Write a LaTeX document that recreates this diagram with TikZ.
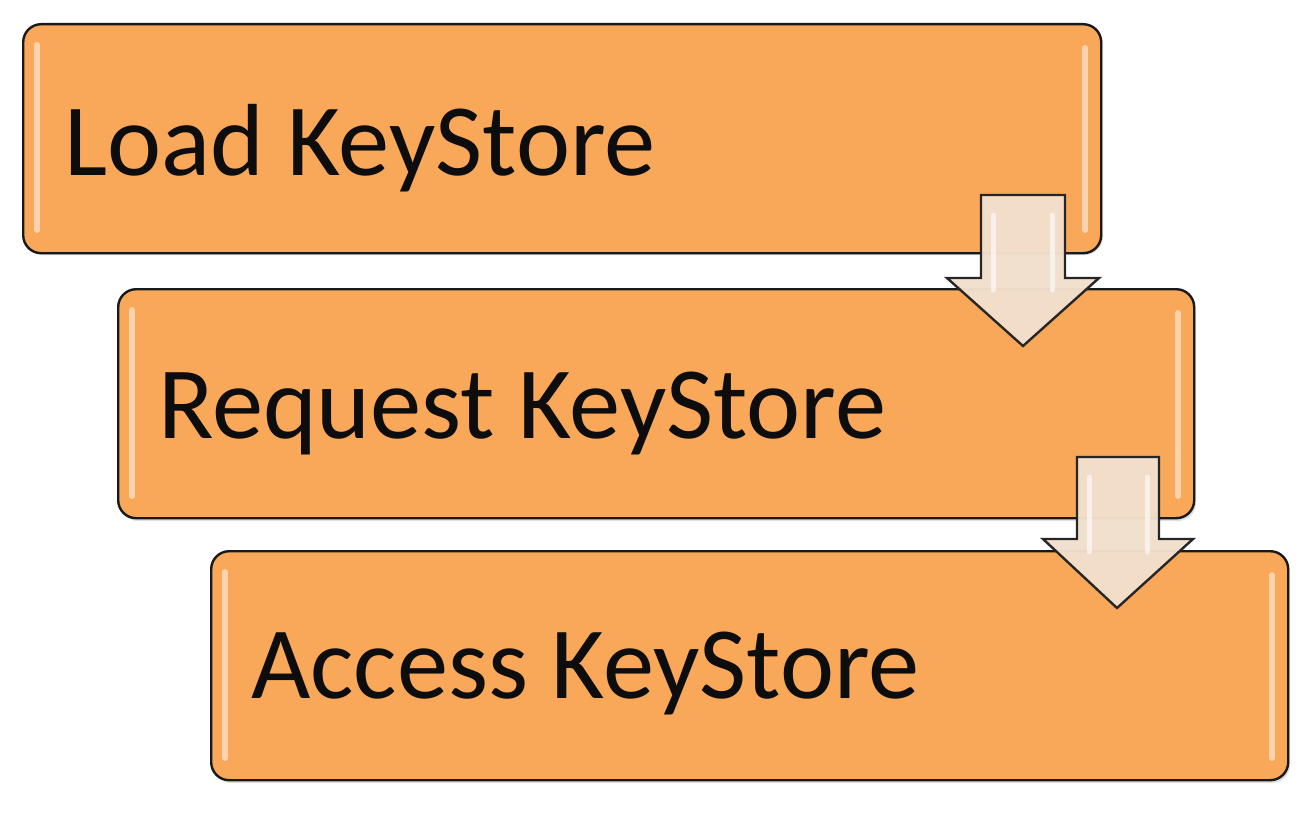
\documentclass[tikz,border=0pt]{standalone}
\usepackage{fontspec}
\setmainfont{Carlito}
\begin{document}
\begin{tikzpicture}[x=1pt,y=-1pt,
  box/.style={draw=black!90,line width=2.4pt,fill=boxorange,rounded corners=18pt,
    minimum width=1078pt,minimum height=229pt,inner sep=0pt,anchor=north west},
  shade/.style={fill=black!25,rounded corners=18pt,opacity=0.5},
  gloss/.style={draw=white,line width=6pt,line cap=round,opacity=0.5},
  lbl/.style={font=\fontsize{102.5}{120}\selectfont,text=black!95,inner sep=0pt,anchor=base west},
  fat/.style={draw=black!85,line width=2.4pt,fill=arrowfill,fill opacity=0.97,line join=miter},
  shine/.style={draw=white,line width=5pt,opacity=0.6,line cap=round}
]
\definecolor{boxorange}{RGB}{249,168,89}
\definecolor{arrowfill}{RGB}{242,223,205}
\useasboundingbox (0,0) rectangle (1304,816);
% shadows
\fill[shade] (25,26) rectangle (1103,255);
\fill[shade] (120,291) rectangle (1196,521);
\fill[shade] (213,553) rectangle (1290,783);
% boxes
\node[box] (b1) at (22,23) {};
\node[box,minimum width=1076pt] (b2) at (117,288) {};
\node[box,minimum width=1077pt] (b3) at (210,550) {};
% gloss highlights
\draw[gloss] (37,45) -- (37,230);
\draw[gloss] (1085,48) -- (1085,230);
\draw[gloss] (132,310) -- (132,496);
\draw[gloss] (1178,313) -- (1178,496);
\draw[gloss] (225,572) -- (225,758);
\draw[gloss] (1272,575) -- (1272,758);
% labels
\node[lbl] (t1) at (64,175) {Load KeyStore};
\node[lbl] (t2) at (158,438) {Request KeyStore};
\node[lbl] (t3) at (251,698) {Access KeyStore};
% arrows
\draw[fat] (981,195) -- (1065,195) -- (1065,278) -- (1099,278) -- (1023,346)
  -- (947,278) -- (981,278) -- cycle;
\draw[fat] (1077,457) -- (1159,457) -- (1159,539) -- (1193,539) -- (1117,608)
  -- (1043,539) -- (1077,539) -- cycle;
\draw[shine] (993,215) -- (993,290);
\draw[shine] (1052,215) -- (1052,290);
\draw[shine] (1089,477) -- (1089,552);
\draw[shine] (1147,477) -- (1147,552);
\end{tikzpicture}
\end{document}
